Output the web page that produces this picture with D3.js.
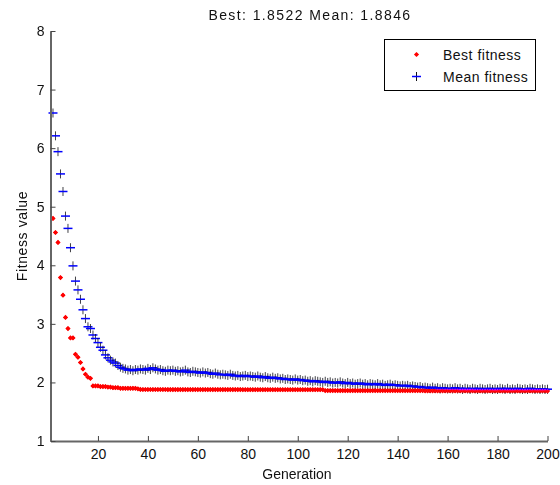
<!DOCTYPE html>
<html>
<head>
<meta charset="utf-8">
<script src="https://cdn.jsdelivr.net/npm/d3@7"></script>
<style>
  body { margin: 0; background: #fff; }
  svg text { font-family: "Liberation Sans", Arial, sans-serif; fill: #111; }
</style>
</head>
<body>
<div id="chart"></div>
<script>
// Width and height
var chart_width  = 560;
var chart_height = 485;

// Data (generation 2..200, generation 1 sits on the axis)
var generation = d3.range(2, 201);

var best_fitness = [
  4.80, 4.56, 4.39, 3.79, 3.49, 3.11, 2.92, 2.76, 2.76, 2.48,
  2.43, 2.34, 2.23, 2.14, 2.09, 2.07,
  1.94, 1.94, 1.94, 1.93, 1.93, 1.93, 1.92, 1.92, 1.91, 1.91,
  1.91, 1.90, 1.90, 1.90, 1.90, 1.90, 1.90, 1.90, 1.89, 1.88,
  1.879, 1.879, 1.879, 1.879, 1.879, 1.879, 1.879, 1.879, 1.879, 1.879,
  1.878, 1.878, 1.878, 1.878, 1.878, 1.878, 1.878, 1.878, 1.878, 1.878,
  1.878, 1.878, 1.878, 1.878, 1.878, 1.878, 1.878, 1.878, 1.878, 1.878,
  1.878, 1.878, 1.878, 1.878, 1.878, 1.878, 1.878, 1.878, 1.878, 1.878,
  1.877, 1.877, 1.877, 1.877, 1.877, 1.877, 1.877, 1.877, 1.877, 1.877,
  1.877, 1.877, 1.877, 1.877, 1.877, 1.877, 1.877, 1.877, 1.877, 1.877,
  1.877, 1.877, 1.877, 1.877, 1.877, 1.877, 1.877, 1.877, 1.877, 1.877,
  1.877, 1.877, 1.877,
  1.861, 1.861, 1.861, 1.861, 1.861, 1.861, 1.861, 1.861, 1.861, 1.861,
  1.861, 1.861, 1.861, 1.861, 1.861, 1.861, 1.861, 1.861, 1.861, 1.861,
  1.861, 1.861, 1.861, 1.861, 1.861, 1.861, 1.861, 1.861, 1.861, 1.861,
  1.861, 1.861, 1.861, 1.861, 1.861, 1.861, 1.861, 1.861, 1.861, 1.861,
  1.857, 1.857, 1.857, 1.857, 1.857, 1.857, 1.857, 1.857, 1.857, 1.857,
  1.857, 1.857, 1.857, 1.857, 1.857, 1.857, 1.857, 1.857, 1.857, 1.857,
  1.855, 1.855, 1.855, 1.855, 1.855, 1.855, 1.855, 1.855, 1.855, 1.855,
  1.855, 1.855, 1.855, 1.855, 1.855, 1.855, 1.855, 1.855, 1.855, 1.855,
  1.855, 1.855, 1.855, 1.855, 1.855, 1.855, 1.855, 1.855, 1.855, 1.8522
];

var mean_fitness = [
  6.60, 6.21, 5.94, 5.56, 5.26, 4.84, 4.63, 4.30, 3.99, 3.73,
  3.58, 3.42, 3.24, 3.09, 2.95, 2.92, 2.81, 2.75, 2.68, 2.60,
  2.55, 2.47, 2.42, 2.38, 2.35, 2.33, 2.29, 2.26, 2.24, 2.23,
  2.21, 2.22, 2.20, 2.22, 2.21, 2.23, 2.22, 2.21, 2.24, 2.22,
  2.25, 2.23, 2.21, 2.22, 2.20, 2.19, 2.21, 2.20, 2.21, 2.19,
  2.20, 2.18, 2.19, 2.21, 2.18, 2.17, 2.19, 2.18, 2.17, 2.16,
  2.18, 2.16, 2.17, 2.15, 2.14, 2.16, 2.14, 2.13, 2.14, 2.13,
  2.12, 2.14, 2.12, 2.11, 2.12, 2.10, 2.11, 2.12, 2.10, 2.11,
  2.10, 2.09, 2.11, 2.09, 2.08, 2.10, 2.08, 2.07, 2.09, 2.07,
  2.08, 2.06, 2.07, 2.05, 2.06, 2.05, 2.04, 2.06, 2.04, 2.05,
  2.03, 2.04, 2.02, 2.03, 2.01, 2.03, 2.02, 2.01, 2.00, 2.02,
  2.00, 2.01, 1.99, 2.00, 1.99, 2.01, 1.99, 1.98, 2.00, 1.98,
  1.99, 1.97, 1.98, 1.99, 1.97, 1.98, 1.96, 1.98, 1.97, 1.96,
  1.98, 1.96, 1.97, 1.95, 1.96, 1.97, 1.95, 1.96, 1.95, 1.94,
  1.95, 1.94, 1.95, 1.93, 1.94, 1.93, 1.92, 1.93, 1.91, 1.92,
  1.91, 1.90, 1.92, 1.90, 1.91, 1.89, 1.91, 1.90, 1.89, 1.90,
  1.89, 1.91, 1.89, 1.90, 1.88, 1.90, 1.89, 1.88, 1.90, 1.89,
  1.88, 1.90, 1.89, 1.88, 1.89, 1.90, 1.88, 1.89, 1.88, 1.90,
  1.89, 1.88, 1.90, 1.88, 1.89, 1.88, 1.90, 1.89, 1.88, 1.89,
  1.88, 1.90, 1.89, 1.88, 1.89, 1.88, 1.89, 1.88, 1.8846
];

var x_ticks = [20, 40, 60, 80, 100, 120, 140, 160, 180, 200];
var y_ticks = [1, 2, 3, 4, 5, 6, 7, 8];
var title_text = 'Best: 1.8522 Mean: 1.8846';
var legend_labels = ['Best fitness', 'Mean fitness'];

var points = generation.map((g, i) => ({gen: g, best: best_fitness[i], mean: mean_fitness[i]}));

// Scales
var x_scale = d3.scaleLinear().domain([1, 200]).range([50.5, 547.5]);
var y_scale = d3.scaleLinear().domain([1, 8]).range([441, 31]);

// Create SVG
var svg = d3.select('#chart')
  .append('svg')
  .attr('width', chart_width)
  .attr('height', chart_height);

svg.append('rect')
  .attr('width', chart_width)
  .attr('height', chart_height)
  .attr('fill', '#fff');

var plot = svg.append('g').style('isolation', 'isolate');

// Best fitness, red dots
function diamond(s){
  return 'M0,' + (-s) + 'L' + s + ',0L0,' + s + 'L' + (-s) + ',0Z';
}

plot.append('g')
  .selectAll('path')
  .data(points)
  .enter()
  .append('path')
  .attr('transform', (d) => 'translate(' + x_scale(d.gen) + ',' + y_scale(d.best) + ')')
  .attr('d', diamond(2.6))
  .attr('fill', '#ff0000');

// Mean fitness, blue crosses
var crosses = plot.append('g')
  .selectAll('g')
  .data(points)
  .enter()
  .append('g')
  .attr('transform', (d) => 'translate(' + x_scale(d.gen) + ',' + y_scale(d.mean) + ')');

crosses.append('line')
  .attr('x1', 0).attr('x2', 0)
  .attr('y1', -4.5).attr('y2', 4.5)
  .attr('stroke', '#101018')
  .attr('stroke-opacity', 0.8)
  .attr('stroke-width', 1);

crosses.append('line')
  .attr('x1', -4.5).attr('x2', 4.5)
  .attr('y1', 0).attr('y2', 0)
  .attr('stroke', '#0000ff')
  .attr('stroke-width', 1.5);

// red drawn again with lighten so it turns magenta under the blue
plot.append('g')
  .style('mix-blend-mode', 'lighten')
  .selectAll('path')
  .data(points)
  .enter()
  .append('path')
  .attr('transform', (d) => 'translate(' + x_scale(d.gen) + ',' + y_scale(d.best) + ')')
  .attr('d', diamond(2.2))
  .attr('fill', '#ff0000');

// Axes
var x_axis = d3.axisBottom(x_scale)
  .tickValues(x_ticks)
  .tickFormat(d3.format('d'))
  .tickSizeInner(-5)
  .tickSizeOuter(0)
  .tickPadding(8);

var y_axis = d3.axisLeft(y_scale)
  .tickValues(y_ticks)
  .tickFormat(d3.format('d'))
  .tickSizeInner(-5)
  .tickSizeOuter(0)
  .tickPadding(6);

var gx = svg.append('g')
  .attr('transform', 'translate(0,441)')
  .call(x_axis);

var gy = svg.append('g')
  .attr('transform', 'translate(50.5,0)')
  .call(y_axis);

[gx, gy].forEach((g) => {
  g.select('.domain').attr('stroke', '#666').attr('stroke-width', 2);
  g.selectAll('.tick line').attr('stroke', '#444').attr('stroke-width', 1);
  g.selectAll('.tick text')
    .attr('font-size', 14)
    .attr('font-family', '"Liberation Sans", Arial, sans-serif')
    .attr('fill', '#111');
});

// Title and axis labels
svg.append('text')
  .text(title_text)
  .attr('x', 310)
  .attr('y', 19.5)
  .attr('text-anchor', 'middle')
  .attr('font-size', 14)
  .attr('letter-spacing', 1.4);

svg.append('text')
  .text('Generation')
  .attr('x', 297)
  .attr('y', 479)
  .attr('text-anchor', 'middle')
  .attr('font-size', 14);

svg.append('text')
  .text('Fitness value')
  .attr('transform', 'translate(27,236) rotate(-90)')
  .attr('text-anchor', 'middle')
  .attr('font-size', 14)
  .attr('letter-spacing', 0.6);

// Legend
var legend = svg.append('g').attr('id', 'legend');

legend.append('rect')
  .attr('x', 384.5)
  .attr('y', 39.5)
  .attr('width', 151)
  .attr('height', 51)
  .attr('fill', '#fff')
  .attr('stroke', '#000')
  .attr('stroke-width', 1);

legend.append('path')
  .attr('transform', 'translate(416.5,54.5)')
  .attr('d', diamond(2.6))
  .attr('fill', '#ff0000');

var lc = legend.append('g').attr('transform', 'translate(416.5,76.5)');
lc.append('line').attr('x1', 0).attr('x2', 0).attr('y1', -4.5).attr('y2', 4.5)
  .attr('stroke', '#101018').attr('stroke-width', 1);
lc.append('line').attr('x1', -4.5).attr('x2', 4.5).attr('y1', 0).attr('y2', 0)
  .attr('stroke', '#0000ff').attr('stroke-width', 1.5);

legend.selectAll('text.leg')
  .data(legend_labels)
  .enter()
  .append('text')
  .attr('class', 'leg')
  .attr('x', 443)
  .attr('y', (d, i) => 59.5 + i * 22.4)
  .attr('font-size', 14)
  .attr('letter-spacing', 0.5)
  .text((d) => d);
</script>
</body>
</html>
